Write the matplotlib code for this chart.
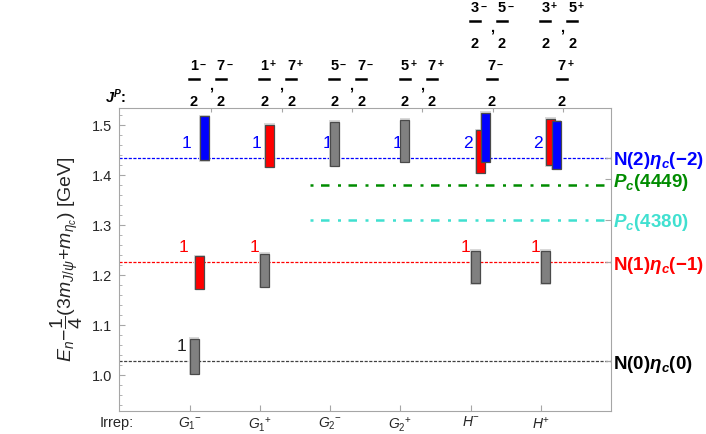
import matplotlib
matplotlib.use("Agg")
import matplotlib.pyplot as plt
from matplotlib.patches import Rectangle
from matplotlib.lines import Line2D

plt.rcParams["font.family"] = ["Liberation Sans", "DejaVu Sans"]
plt.rcParams["mathtext.fontset"] = "custom"
plt.rcParams["mathtext.rm"] = "Liberation Sans"
plt.rcParams["mathtext.it"] = "Liberation Sans:italic"
plt.rcParams["mathtext.bf"] = "Liberation Sans:bold"
plt.rcParams["mathtext.bfit"] = "Liberation Sans:bold:italic"
plt.rcParams["mathtext.sf"] = "Liberation Sans"

# irreps along x (positions 1..6)
irreps = [r"$G_1{}^{-}$", r"$G_1{}^{+}$", r"$G_2{}^{-}$", r"$G_2{}^{+}$", r"$H^{-}$", r"$H^{+}$"]
# J^P content per irrep: rows of (numerator, parity), bottom row first
jp_rows = [
    [[("1", "−"), ("7", "−")]],
    [[("1", "+"), ("7", "+")]],
    [[("5", "−"), ("7", "−")]],
    [[("5", "+"), ("7", "+")]],
    [[("7", "−")], [("3", "−"), ("5", "−")]],
    [[("7", "+")], [("3", "+"), ("5", "+")]],
]

# non-interacting levels
levels = [1.028, 1.2253, 1.435]
level_colors = ["#404040", "#ff0000", "#0000ff"]
level_names = [r"N(0)$\mathbfit{\eta}_{\mathbfit{c}}$(0)",
               r"N(1)$\mathbfit{\eta}_{\mathbfit{c}}$(−1)",
               r"N(2)$\mathbfit{\eta}_{\mathbfit{c}}$(−2)"]

# Pc states
pc_values = [1.380, 1.311]
pc_names = [r"$\mathbfit{P}_{\mathbfit{c}}$(4449)", r"$\mathbfit{P}_{\mathbfit{c}}$(4380)"]
pc_colors = ["#008c00", "#40e0d0"]
pc_label_pos = [1.392, 1.311]

# lattice energies (irrep index, kind, low, high)
bar_irrep = [1, 1, 1, 2, 2, 3, 4, 5, 5, 5, 6, 6, 6]
bar_kind = ["gray", "red", "blue", "gray", "red", "gray", "gray",
            "gray", "red", "blue", "gray", "red", "blue"]
bar_lo = [1.003, 1.173, 1.430, 1.177, 1.417, 1.419, 1.427,
          1.184, 1.405, 1.427, 1.184, 1.420, 1.413]
bar_hi = [1.073, 1.238, 1.518, 1.243, 1.501, 1.507, 1.511,
          1.249, 1.490, 1.525, 1.249, 1.513, 1.508]

# multiplicity labels (irrep index, level index, text)
cnt_irrep = [1, 1, 2, 5, 6, 1, 2, 3, 4, 5, 6]
cnt_level = [0, 1, 1, 1, 1, 2, 2, 2, 2, 2, 2]
cnt_text = ["1", "1", "1", "1", "1", "1", "1", "1", "1", "2", "2"]

fill = {"gray": "#808080", "red": "#ff0000", "blue": "#0000ff"}
shift = {"gray": 0.0, "red": 0.074, "blue": 0.15}
cnt_shift = [-0.118, -0.08, -0.045]
bar_w = 0.128

W, H = 706, 434
frame = "#a6a6a6"
fig = plt.figure(figsize=(W / 100, H / 100), dpi=100)
ax = fig.add_axes([0.169, 0.053, 0.6969, 0.6988])
ax.set_xlim(0, 7)
ax.set_ylim(0.928, 1.5346)

for lv, c in zip(levels, level_colors):
    ax.plot([0, 7], [lv, lv], color=c, lw=0.9, ls=(0, (2.5, 1.2)), zorder=1)

for v, c in zip(pc_values, pc_colors):
    ax.plot([2.72, 6.9], [v, v], color=c, lw=1.8, ls=(0, (1.2, 3.0, 3.4, 3.4)), zorder=1)

for i, lv, t in zip(cnt_irrep, cnt_level, cnt_text):
    ax.text(i + cnt_shift[lv], levels[lv] + 0.029, t, color=level_colors[lv] if lv else "#202020",
            fontsize=12.5, ha="center", va="center", zorder=2)

for i, k, lo, hi in zip(bar_irrep, bar_kind, bar_lo, bar_hi):
    x0 = i + shift[k]
    ax.add_patch(Rectangle((x0 - 0.012, lo - 0.003), bar_w + 0.024, hi - lo + 0.006,
                           facecolor="#d9d9d9", edgecolor="none", zorder=3))
    ax.add_patch(Rectangle((x0, lo), bar_w, hi - lo, facecolor=fill[k],
                           edgecolor="#4a4a4a", lw=0.9, zorder=4))

for s in ax.spines.values():
    s.set_color(frame)

ax.set_xticks(range(1, 7))
ax.set_xticklabels(irreps, fontsize=10)
ax.set_yticks([1.0, 1.1, 1.2, 1.3, 1.4, 1.5])
ax.set_yticklabels(["1.0", "1.1", "1.2", "1.3", "1.4", "1.5"], fontsize=10.5)
ax.set_yticks([0.94 + 0.02 * k for k in range(30)], minor=True)
ax.tick_params(axis="both", which="major", direction="in", length=4, color=frame,
               labelcolor="#262626")
ax.tick_params(axis="x", pad=3)
ax.tick_params(axis="y", pad=5)
ax.tick_params(axis="y", which="minor", direction="in", length=2, color=frame)
ax.tick_params(axis="x", which="minor", length=0)

ax.set_ylabel(r"$E_n\!-\!\dfrac{1}{4}(3m_{J/\psi}\!+\!m_{\eta_c})$ [GeV]", fontsize=14,
              color="#262626", labelpad=5)

# right side labels
ay = ax.twinx()
ay.set_ylim(ax.get_ylim())
r_ticks = levels + pc_label_pos
r_names = level_names + pc_names
r_cols = ["#000000", "#ff0000", "#0000ff"] + pc_colors
ay.set_yticks(r_ticks)
ay.set_yticklabels(r_names, fontsize=13.5, fontweight="bold")
for lab, c in zip(ay.get_yticklabels(), r_cols):
    lab.set_color(c)
ay.tick_params(axis="y", direction="in", length=4, color=frame, pad=1)
for s in ay.spines.values():
    s.set_visible(False)

# top axis ticks (J^P)
top_ticks = [i + 0.31 for i in range(1, 7)]
at = ax.twiny()
at.set_xlim(0, 7)
at.set_xticks(top_ticks)
at.set_xticklabels([])
at.tick_params(axis="x", direction="in", length=3, color=frame)
for s in at.spines.values():
    s.set_visible(False)


def fy(ytop):
    return 1 - ytop / H


def draw_frac(xc, ybar, num, sign):
    fig.text(xc / W, fy(ybar - 9), num, fontsize=10.5, fontweight="bold", ha="center", va="baseline")
    fig.text((xc + 8.4) / W, fy(ybar - 11.5), sign, fontsize=7.5, fontweight="bold",
             ha="center", va="baseline")
    fig.add_artist(Line2D([(xc - 5) / W, (xc + 5) / W], [fy(ybar), fy(ybar)],
                          transform=fig.transFigure, color="black", lw=1.8))
    fig.text(xc / W, fy(ybar + 26.5), "2", fontsize=10.5, fontweight="bold", ha="center",
             va="baseline")


for t, rows in zip(top_ticks, jp_rows):
    xt = ax.transData.transform((t, 1.0))[0]
    for r, row in enumerate(rows):
        ybar = 79 - 58 * r
        if len(row) == 1:
            draw_frac(xt - 1, ybar, *row[0])
        else:
            mid = xt - 4
            draw_frac(mid - 13.5, ybar, *row[0])
            draw_frac(mid + 13.5, ybar, *row[1])
            fig.text((mid + 3.4) / W, fy(ybar + 11), ",", fontsize=10.5, fontweight="bold",
                     ha="center", va="baseline")

fig.text(115 / W, fy(97), r"$\mathbfit{J}^{\mathbfit{P}}$:", fontsize=10.5, fontweight="bold",
         ha="center", va="center")
fig.text(117 / W, fy(423), "Irrep:", fontsize=10.5, ha="center", va="center", color="#262626")

fig.savefig("out.png", dpi=100)
